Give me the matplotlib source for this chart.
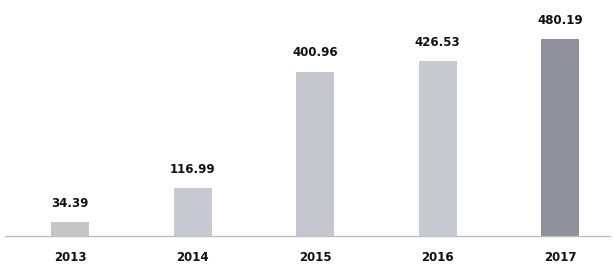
import matplotlib
matplotlib.use("Agg")
import matplotlib.pyplot as plt

years = ["2013", "2014", "2015", "2016", "2017"]
values = [34.39, 116.99, 400.96, 426.53, 480.19]
colors = ["#c6c6c9", "#c7c9d3", "#c5c7cf", "#c8cad2", "#8f909c"]

fig = plt.figure(figsize=(6.13, 2.64), dpi=100)
ax = fig.add_axes([5 / 613, 28 / 264, 605 / 613, 234 / 264])

x = range(len(years))
ax.bar(x, values, width=0.31, color=colors, zorder=2)

# value labels above the bars
for i, v in enumerate(values):
    ax.annotate("%.2f" % v, (i, v), xytext=(0, 13.5), textcoords="offset points",
                ha="center", va="center", fontsize=8.5, fontweight="bold",
                color="#111111", annotation_clip=False)

ax.set_xlim(-0.531, 4.408)
ax.set_ylim(0, 571)
ax.set_xticks(list(x))
ax.set_xticklabels(years, fontsize=8.5, fontweight="bold", color="#111111")
ax.tick_params(axis="x", length=0, pad=10.5)
ax.set_yticks([])
for side in ["top", "left", "right"]:
    ax.spines[side].set_visible(False)
ax.spines["bottom"].set_color("#bdbdbd")
ax.spines["bottom"].set_linewidth(1)

fig.savefig("out.png", dpi=100)
